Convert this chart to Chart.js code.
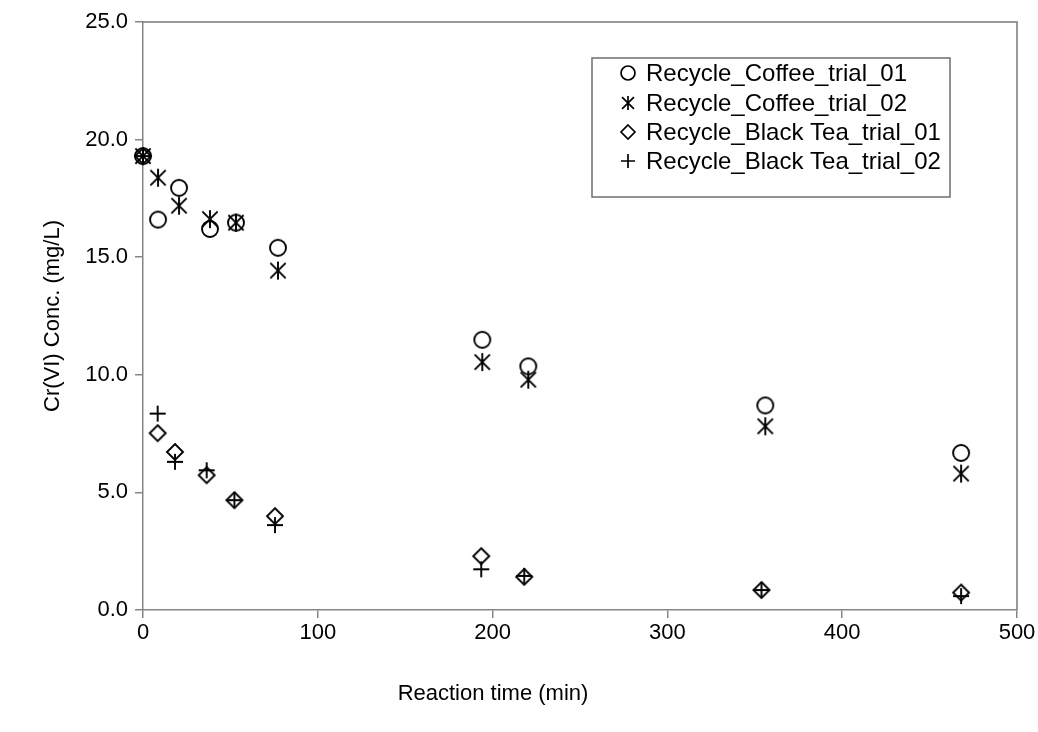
<!DOCTYPE html>
<html><head><meta charset="utf-8">
<script src="https://cdn.jsdelivr.net/npm/chart.js@4.4.0/dist/chart.umd.min.js"></script>
<style>html,body{margin:0;padding:0;background:#fff;}#wrap{position:relative;width:1038px;height:732px;}</style>
</head><body><div id="wrap"><canvas id="c" width="1038" height="732"></canvas></div>
<script>
const seriesNames = ['Recycle_Coffee_trial_01','Recycle_Coffee_trial_02','Recycle_Black Tea_trial_01','Recycle_Black Tea_trial_02'];
const coffee1Time = [0, 8.6, 20.6, 38.3, 53.2, 77.2, 194.1, 220.4, 356, 468];
const coffee1Conc = [19.3, 16.6, 17.95, 16.2, 16.47, 15.4, 11.49, 10.36, 8.70, 6.68];
const coffee2Time = [0, 8.6, 20.6, 38.3, 53.2, 77.2, 194.1, 220.4, 356, 468];
const coffee2Conc = [19.3, 18.38, 17.19, 16.62, 16.47, 14.43, 10.54, 9.79, 7.81, 5.80];
const tea1Time = [0, 8.4, 18.3, 36.4, 52.3, 75.5, 193.5, 218.1, 353.8, 468];
const tea1Conc = [19.3, 7.52, 6.72, 5.73, 4.67, 3.99, 2.29, 1.41, 0.85, 0.74];
const tea2Time = [0, 8.4, 18.3, 36.4, 52.3, 75.5, 193.5, 218.1, 353.8, 468];
const tea2Conc = [19.3, 8.35, 6.30, 5.94, 4.67, 3.61, 1.73, 1.45, 0.85, 0.59];
const xTicks = [0, 100, 200, 300, 400, 500];
const yTicks = [0, 5, 10, 15, 20, 25];
const xTitle = 'Reaction time (min)';
const yTitle = 'Cr(VI) Conc. (mg/L)';

const FONT = "'Liberation Sans', Arial, sans-serif";
const AXIS = '#868686';

function makeMarker(kind, half, lw) {
  const s = Math.ceil(half * 2 + lw * 2 + 2);
  const cv = document.createElement('canvas');
  cv.width = s; cv.height = s;
  const g = cv.getContext('2d');
  const c = s / 2;
  g.strokeStyle = '#000'; g.lineWidth = lw;
  g.beginPath();
  if (kind === 'circle') {
    g.arc(c, c, half, 0, Math.PI * 2);
  } else if (kind === 'star') {
    const d = half * 0.85;
    g.moveTo(c - d, c - d); g.lineTo(c + d, c + d);
    g.moveTo(c + d, c - d); g.lineTo(c - d, c + d);
    g.moveTo(c, c - half); g.lineTo(c, c + half);
  } else if (kind === 'diamond') {
    g.moveTo(c, c - half); g.lineTo(c + half, c); g.lineTo(c, c + half); g.lineTo(c - half, c); g.closePath();
  } else {
    g.moveTo(c - half, c); g.lineTo(c + half, c);
    g.moveTo(c, c - half); g.lineTo(c, c + half);
  }
  g.stroke();
  return cv;
}
const kinds = ['circle', 'star', 'diamond', 'plus'];
const plotMarkers = kinds.map(k => makeMarker(k, k === 'star' ? 9 : 8, 1.9));
const legendMarkers = kinds.map(k => makeMarker(k, 7, 1.7));

function pts(xs, ys) { return xs.map((x, i) => ({x: x, y: ys[i]})); }
const seriesData = [pts(coffee1Time, coffee1Conc), pts(coffee2Time, coffee2Conc), pts(tea1Time, tea1Conc), pts(tea2Time, tea2Conc)];

const framePlugin = {
  id: 'frame',
  beforeDatasetsDraw(chart) {
    const {ctx, chartArea: a} = chart;
    ctx.save();
    ctx.strokeStyle = '#7a7a7a'; ctx.lineWidth = 1.5;
    ctx.beginPath();
    ctx.moveTo(a.left, a.top); ctx.lineTo(a.right, a.top); ctx.lineTo(a.right, a.bottom);
    ctx.stroke();
    ctx.fillStyle = '#000';
    ctx.font = '22px ' + FONT;
    ctx.textAlign = 'center';
    ctx.textBaseline = 'middle';
    ctx.fillText(xTitle, 493, 694);
    ctx.restore();
  },
  afterDatasetsDraw(chart) {
    const ctx = chart.ctx;
    const bx = 592, by = 58, bw = 358, bh = 139;
    ctx.save();
    ctx.fillStyle = '#fff';
    ctx.fillRect(bx, by, bw, bh);
    ctx.strokeStyle = '#6e6e6e'; ctx.lineWidth = 1.5;
    ctx.strokeRect(bx, by, bw, bh);
    ctx.font = '24px ' + FONT;
    ctx.fillStyle = '#000';
    ctx.textBaseline = 'middle';
    ctx.textAlign = 'left';
    const rows = [73, 103, 132, 161];
    chart.data.datasets.forEach((ds, i) => {
      const m = legendMarkers[i];
      ctx.drawImage(m, 628 - m.width / 2, rows[i] - m.height / 2);
      ctx.fillText(ds.label, 646, rows[i] + 1);
    });
    ctx.restore();
  }
};

new Chart(document.getElementById('c'), {
  type: 'scatter',
  data: {
    datasets: seriesData.map((d, i) => ({
      label: seriesNames[i],
      data: d,
      pointStyle: plotMarkers[i],
      pointRadius: 8,
      pointHoverRadius: 8,
      showLine: false,
      clip: false
    }))
  },
  options: {
    responsive: false,
    animation: false,
    devicePixelRatio: 1,
    layout: {padding: {left: 36, top: 22, right: 21, bottom: 21}},
    plugins: {legend: {display: false}, tooltip: {enabled: false}},
    scales: {
      x: {
        type: 'linear', min: 0, max: 500,
        afterBuildTicks(s) { s.ticks = xTicks.map(v => ({value: v})); },
        afterFit(s) { s.height = 101; },
        grid: {drawOnChartArea: false, drawTicks: true, tickLength: 8, color: AXIS, lineWidth: 1.5},
        border: {color: AXIS, width: 1.5},
        ticks: {color: '#000', font: {family: FONT, size: 22}, padding: 2, maxRotation: 0},
        title: {display: false, text: xTitle}
      },
      y: {
        type: 'linear', min: 0, max: 25,
        afterBuildTicks(s) { s.ticks = yTicks.map(v => ({value: v})); },
        afterFit(s) { s.width = 107; },
        grid: {drawOnChartArea: false, drawTicks: true, tickLength: 8, color: AXIS, lineWidth: 1.5},
        border: {color: AXIS, width: 1.5},
        ticks: {color: '#000', font: {family: FONT, size: 22}, padding: 7, callback: v => Number(v).toFixed(1)},
        title: {display: true, text: yTitle, color: '#000', font: {family: FONT, size: 22}, padding: 4}
      }
    }
  },
  plugins: [framePlugin]
});
</script></body></html>
